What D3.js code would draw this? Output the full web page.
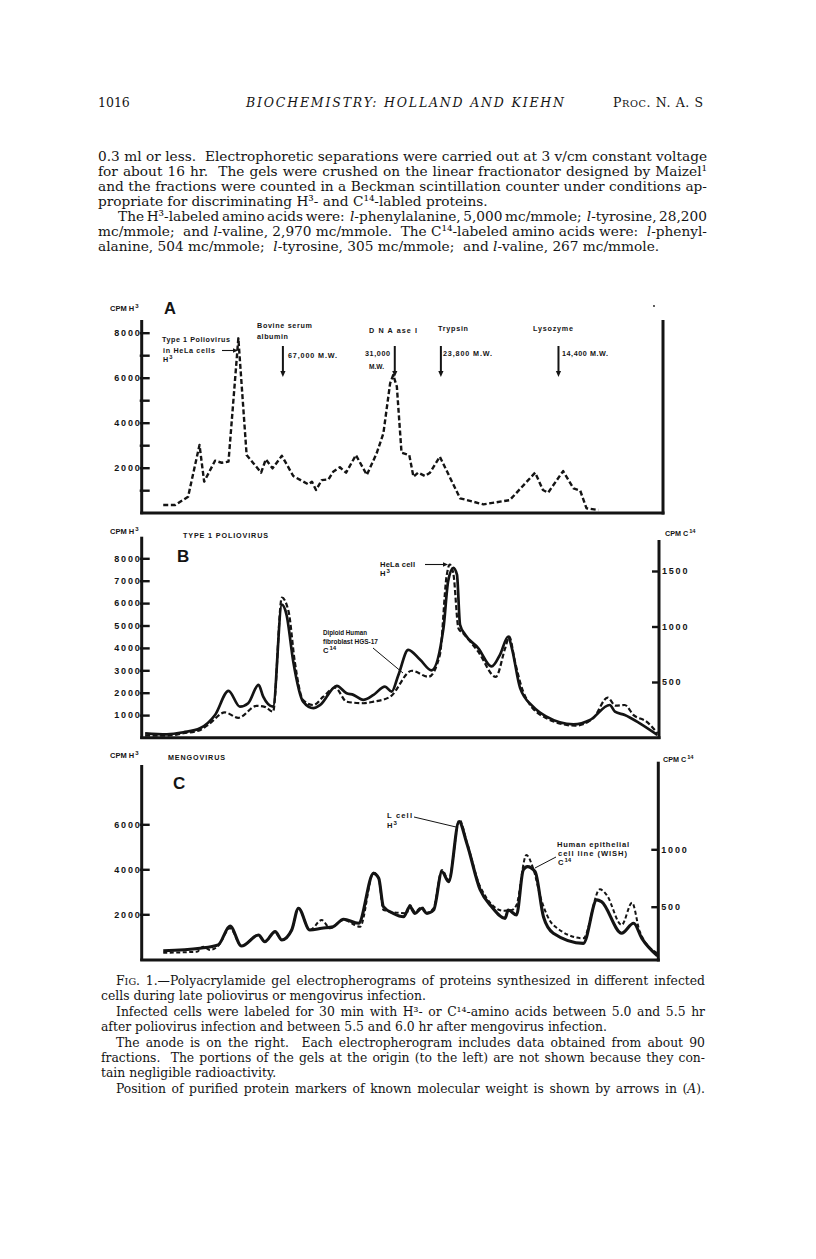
<!DOCTYPE html>
<html><head><meta charset="utf-8">
<script src="https://cdn.jsdelivr.net/npm/d3@7"></script>
<style>body{margin:0;background:#fff}svg{display:block}</style>
</head><body>
<svg id="fig" width="816" height="1259"></svg>
<script>
// ---------------- DATA ----------------
// x: position along the gel (0 = left edge of plot, 100 = right edge); y: counts per minute
const seriesA_H3 = [[4.1,340],[6.4,340],[8.9,710],[11.1,3010],[12.0,1380],[14.1,2310],[15.4,2220],[16.7,2270],[18.6,7750],[20.2,2560],[21.5,2200],[23.0,1780],[23.9,2370],[25.2,1970],[27.0,2530],[29.2,1630],[32.1,1260],[32.8,1380],[33.6,1010],[34.7,1450],[36.0,1480],[36.9,1820],[38.2,2020],[39.4,1780],[41.3,2560],[43.4,1680],[45.3,2640],[46.6,3530],[47.9,5750],[48.5,6120],[49.2,5600],[50.1,2670],[51.6,2560],[52.4,1600],[53.3,1780],[54.6,1630],[55.6,1780],[57.5,2490],[61.4,640],[65.9,370],[71.0,560],[75.9,1780],[77.4,1010],[78.4,890],[81.3,1850],[83.3,1080],[84.6,980],[85.8,200],[88.1,120]];
const seriesB_H3 = [[0.6,80],[4.8,80],[8.0,190],[11.2,330],[13.1,630],[16.0,1120],[18.6,880],[22.1,1410],[23.7,1370],[25.3,1150],[27.0,6240],[28.3,5620],[29.5,3380],[31.1,1670],[33.1,1450],[35.0,1820],[37.3,2220],[39.5,1600],[42.7,1530],[44.7,1600],[47.9,1820],[52.1,2980],[55.3,2710],[57.5,3680],[58.8,7200],[59.4,7720],[60.1,7330],[61.1,4870],[62.0,4650],[64.9,3830],[68.3,2710],[70.1,3980],[70.9,4500],[72.0,3380],[73.6,2040],[77.5,930],[83.6,530],[87.1,860],[89.9,1780],[91.4,1420],[93.2,1450],[94.9,1000],[97.4,710],[99.5,190]];
const seriesB_C14 = [[0.6,38],[4.8,29],[8.0,47],[11.2,83],[14.1,203],[16.7,420],[18.9,278],[20.5,309],[22.5,474],[23.4,368],[25.3,278],[27.0,1197],[27.9,1106],[29.2,685],[31.1,323],[33.1,264],[34.4,293],[37.6,465],[39.5,399],[40.8,384],[42.7,339],[44.7,384],[46.9,459],[48.2,414],[49.5,564],[51.4,790],[53.7,700],[55.9,605],[58.2,986],[59.1,1407],[60.1,1528],[60.8,1467],[61.4,1016],[62.4,926],[64.9,806],[67.5,640],[69.1,745],[70.7,910],[71.4,805],[73.0,445],[75.5,278],[78.1,188],[83.3,119],[86.5,158],[90.3,293],[91.3,233],[93.2,203],[96.1,128],[99.5,23]];
const seriesC_H3 = [[4.1,380],[11.2,490],[14.7,640],[17.0,1480],[19.2,590],[22.5,1080],[23.7,780],[25.7,1230],[27.0,860],[28.9,1300],[30.2,2270],[32.4,1300],[34.7,1380],[36.9,1450],[38.9,1780],[41.8,1600],[44.7,3820],[45.7,3600],[46.6,2340],[48.5,2040],[50.5,1890],[51.7,2340],[52.7,2040],[54.0,2270],[55.0,2040],[56.3,2190],[57.9,3890],[59.2,3450],[61.2,6120],[62.7,5160],[65.3,3080],[67.5,2340],[70.1,1820],[70.7,2190],[72.3,1970],[73.6,3970],[74.4,4120],[75.9,3890],[77.5,1890],[79.4,1160],[85.2,710],[87.8,2640],[88.7,2560],[92.6,1160],[94.9,1600],[96.5,930],[99.5,150]];
const seriesC_C14 = [[4.1,99],[10.6,108],[11.8,152],[13.1,123],[14.7,158],[17.0,312],[19.2,158],[22.5,254],[23.7,195],[25.7,282],[27.0,210],[28.9,297],[30.2,486],[32.4,297],[34.7,384],[36.3,312],[38.9,384],[42.1,326],[44.7,796],[45.7,747],[46.6,471],[51.1,443],[51.7,515],[52.7,454],[54.0,497],[55.0,445],[56.3,489],[57.9,820],[59.2,733],[61.3,1255],[62.7,1064],[65.3,674],[69.8,465],[71.4,471],[72.3,515],[74.2,950],[75.5,835],[77.1,558],[79.4,341],[85.2,225],[88.4,652],[89.7,602],[92.6,341],[94.6,535],[96.1,282],[99.5,94]];

const ticksA_left = [1000,2000,3000,4000,5000,6000,7000,8000];
const labelsA_left = [2000,4000,6000,8000];
const ticksB_left = [1000,2000,3000,4000,5000,6000,7000,8000];
const labelsB_left = [1000,2000,3000,4000,5000,6000,7000,8000];
const ticksB_right = [500,1000,1500];
const ticksC_left = [2000,4000,6000];
const ticksC_right = [500,1000];

const markersA = [
  {name:["Bovine serum","albumin"], mw:["67,000 M.W."], x:27.2},
  {name:["D N A ase I"], mw:["31,000","M.W."], x:48.8},
  {name:["Trypsin"], mw:["23,800 M.W."], x:57.7},
  {name:["Lysozyme"], mw:["14,400 M.W."], x:80.4}
];

const headerText = ["1016", "BIOCHEMISTRY: HOLLAND AND KIEHN", "P^ROC^. N. A. S"];
const paragraph = [
  "0.3 ml or less.  Electrophoretic separations were carried out at 3 v/cm constant voltage",
  "for about 16 hr.  The gels were crushed on the linear fractionator designed by Maizel¹",
  "and the fractions were counted in a Beckman scintillation counter under conditions ap-",
  "propriate for discriminating H³- and C¹⁴-labled proteins.",
  "The H³-labeled amino acids were:  *l*-phenylalanine, 5,000 mc/mmole;  *l*-tyrosine, 28,200",
  "mc/mmole;  and *l*-valine, 2,970 mc/mmole.  The C¹⁴-labeled amino acids were:  *l*-phenyl-",
  "alanine, 504 mc/mmole;  *l*-tyrosine, 305 mc/mmole;  and *l*-valine, 267 mc/mmole."
];
const caption = [
  "F^IG^. 1.—Polyacrylamide gel electropherograms of proteins synthesized in different infected",
  "cells during late poliovirus or mengovirus infection.",
  "Infected cells were labeled for 30 min with H³- or C¹⁴-amino acids between 5.0 and 5.5 hr",
  "after poliovirus infection and between 5.5 and 6.0 hr after mengovirus infection.",
  "The anode is on the right.  Each electropherogram includes data obtained from about 90",
  "fractions.  The portions of the gels at the origin (to the left) are not shown because they con-",
  "tain negligible radioactivity.",
  "Position of purified protein markers of known molecular weight is shown by arrows in (*A*)."
];

// ---------------- LAYOUT / DRAW ----------------
const svg = d3.select('#fig');
svg.append('rect').attr('width',816).attr('height',1259).attr('fill','#fff');
const INK = '#141414';
const SERIF = "'DejaVu Serif','Liberation Serif',serif";
const SANS = "'Liberation Sans',Arial,'DejaVu Sans',sans-serif";

function serifText(str, x, y, size, opts={}) {
  const t = svg.append('text').attr('x',x).attr('y',y).attr('font-family',SERIF)
    .attr('font-size',size).attr('fill',INK).style('white-space','pre');
  if (opts.italic) t.attr('font-style','italic');
  str.split(/(\*[^*]*\*|\^[^^]*\^)/).forEach(seg=>{
    if(!seg) return;
    if(seg[0]==='*') t.append('tspan').attr('font-style','italic').text(seg.slice(1,-1));
    else if(seg[0]==='^') t.append('tspan').attr('font-size',size*0.78).text(seg.slice(1,-1));
    else t.append('tspan').text(seg);
  });
  return t;
}
function measure(str, size) {
  const t = serifText(str, 0, -100, size);
  const w = t.node().getComputedTextLength(); t.remove(); return w;
}
function block(lines, opts) {
  const xs = lines.map((s,i)=> opts.indent.includes(i) ? opts.xIndent : opts.x);
  let size = opts.base * opts.refWidth / measure(lines[opts.refLine], opts.base);
  opts.justify.forEach(i=>{
    const fit = opts.base * (opts.right - xs[i]) / measure(lines[i], opts.base) * opts.slack;
    if (fit < size) size = fit;
  });
  lines.forEach((s,i)=>{
    const t = serifText(s, xs[i], opts.y0 + i*opts.lead, size);
    if (opts.justify.includes(i)) {
      const w = t.node().getComputedTextLength();
      const n = (s.match(/ /g)||[]).length;
      t.attr('word-spacing', (opts.right - xs[i] - w)/n);
    }
  });
}

// header
serifText(headerText[0], 98, 107, 12.5);
serifText(headerText[1], 246, 107, 12.5, {italic:true}).attr('textLength',318).attr('lengthAdjust','spacing');
serifText(headerText[2], 613, 107, 12.5).attr('textLength',90).attr('lengthAdjust','spacing');

block(paragraph, {base:12, refLine:6, refWidth:562, x:98, xIndent:118, indent:[4], y0:161, lead:15,
  right:707, justify:[0,1,2,4,5], slack:1.04});
block(caption, {base:11, refLine:3, refWidth:506, x:101, xIndent:116, indent:[0,2,4,7], y0:985, lead:15.4,
  right:705, justify:[0,2,4,5,7], slack:1.02});

function sansText(str, x, y, size, width) {
  const t = svg.append('text').attr('x',x).attr('y',y).attr('font-family',SANS)
    .attr('font-weight','bold').attr('font-size',size).attr('fill',INK);
  str.split(/(\{[^}]*\})/).forEach(seg=>{
    if(!seg) return;
    if(seg[0]==='{') t.append('tspan').attr('font-size',size*0.8).attr('dy',-size*0.45).attr('dx',1).text(seg.slice(1,-1));
    else t.append('tspan').text(seg);
  });
  if (width) {
    const w = t.node().getComputedTextLength();
    t.attr('textLength',width).attr('lengthAdjust', w > width ? 'spacingAndGlyphs' : 'spacing');
  }
  return t;
}

const x = d3.scaleLinear().domain([0,100]).range([142,660]);

function leftAxis(y, ticks, labels, axX, topPx) {
  const ax = d3.axisLeft(y).tickValues(ticks).tickSize(-8).tickSizeOuter(0).tickPadding(2)
    .tickFormat(d => labels.includes(d) ? d3.format('d')(d) : '');
  const g = svg.append('g').attr('transform',`translate(${axX},0)`).call(ax);
  g.select('.domain').remove();
  g.selectAll('.tick line').attr('stroke',INK).attr('stroke-width',2.4).attr('x1',-2);
  g.selectAll('.tick text').attr('font-family',SANS).attr('font-weight','bold').attr('font-size',9)
    .attr('letter-spacing',1.8).attr('dx',1.8).attr('fill',INK);
  svg.append('line').attr('x1',axX).attr('x2',axX).attr('y1',topPx).attr('y2',y(0)+1.5)
    .attr('stroke',INK).attr('stroke-width',3);
}
function rightAxis(y, ticks, axX, topPx, bottomPx) {
  const ax = d3.axisRight(y).tickValues(ticks).tickSize(-7).tickSizeOuter(0).tickPadding(3)
    .tickFormat(d3.format('d'));
  const g = svg.append('g').attr('transform',`translate(${axX},0)`).call(ax);
  g.select('.domain').remove();
  g.selectAll('.tick line').attr('stroke',INK).attr('stroke-width',2.4);
  g.selectAll('.tick text').attr('font-family',SANS).attr('font-weight','bold').attr('font-size',9)
    .attr('letter-spacing',1.8).attr('fill',INK);
  svg.append('line').attr('x1',axX).attr('x2',axX).attr('y1',topPx).attr('y2',bottomPx)
    .attr('stroke',INK).attr('stroke-width',3);
}
function bottomLine(yPx, x1, x2) {
  svg.append('line').attr('x1',x1-1.5).attr('x2',x2+1.5).attr('y1',yPx).attr('y2',yPx)
    .attr('stroke',INK).attr('stroke-width',3);
}
function plotLine(data, y, curve, w, dash) {
  const p = svg.append('path').datum(data)
    .attr('d', d3.line().x(d=>x(d[0])).y(d=>y(d[1])).curve(curve))
    .attr('fill','none').attr('stroke',INK).attr('stroke-width',w)
    .attr('stroke-linejoin','round');
  if (dash) p.attr('stroke-dasharray',dash);
}
function arrowDown(px, y1, y2) {
  svg.append('line').attr('x1',px).attr('x2',px).attr('y1',y1).attr('y2',y2-4)
    .attr('stroke',INK).attr('stroke-width',2);
  svg.append('path').attr('d',`M${px-2.6},${y2-5}L${px+2.6},${y2-5}L${px},${y2+1}Z`).attr('fill',INK);
}
function arrowRight(x1, x2, py) {
  svg.append('line').attr('x1',x1).attr('x2',x2-4).attr('y1',py).attr('y2',py)
    .attr('stroke',INK).attr('stroke-width',1.1);
  svg.append('path').attr('d',`M${x2-5},${py-2.2}L${x2-5},${py+2.2}L${x2},${py}Z`).attr('fill',INK);
}
function pointer(x1,y1,x2,y2){
  svg.append('line').attr('x1',x1).attr('y1',y1).attr('x2',x2).attr('y2',y2)
    .attr('stroke',INK).attr('stroke-width',1);
}

// ---- Panel A ----
const yA = d3.scaleLinear().domain([0,8000]).range([512.7,332.7]);
leftAxis(yA, ticksA_left, labelsA_left, 141.7, 320);
rightAxis(d3.scaleLinear().domain([0,1]).range([513,320]), [], 663, 320, 514.5);
bottomLine(513, 141.7, 663);
plotLine(seriesA_H3, yA, d3.curveLinear, 2.4, '5,2.6');
sansText('CPM H{3}', 110, 311, 7.5);
sansText('A', 164, 314, 16.5);
sansText('Type 1 Poliovirus', 162, 342, 7.2, 68);
sansText('in HeLa cells', 163, 353, 7.2, 52);
arrowRight(222, 238, 350.5);
sansText('H{3}', 163, 362, 7.2);
const mkLayout = [
  {name:[[257,328,55],[257,339,31]], mw:[[288,358,49]]},
  {name:[[369,333,48]], mw:[[365,356,25],[369,368.5,15]]},
  {name:[[438,331,30]], mw:[[443,356,49]]},
  {name:[[533,331,40]], mw:[[562,356,46]]}
];
markersA.forEach((m,i)=>{
  const L = mkLayout[i];
  m.name.forEach((s,j)=>sansText(s, L.name[j][0], L.name[j][1], 7.2, L.name[j][2]));
  m.mw.forEach((s,j)=>sansText(s, L.mw[j][0], L.mw[j][1], 7.2, L.mw[j][2]));
  arrowDown(x(m.x), 346, 376);
});
svg.append('circle').attr('cx',654).attr('cy',306).attr('r',0.9).attr('fill',INK);

// ---- Panel B ----
const yB = d3.scaleLinear().domain([0,8000]).range([737.5,558.3]);
const yB2 = d3.scaleLinear().domain([0,1500]).range([737.5,571]);
leftAxis(yB, ticksB_left, labelsB_left, 141.7, 536.7);
rightAxis(yB2, ticksB_right, 659, 540, 739);
bottomLine(737.7, 141.7, 659);
plotLine(seriesB_C14, yB2, d3.curveMonotoneX, 2.7, null);
plotLine(seriesB_H3, yB, d3.curveMonotoneX, 2.2, '5,2.5');
sansText('CPM H{3}', 110, 534, 7.5);
sansText('TYPE 1 POLIOVIRUS', 183, 538, 7.2, 85);
sansText('B', 177, 562, 17);
sansText('CPM C{14}', 665, 536, 7.2);
sansText('HeLa cell', 380, 567, 7.6, 35);
arrowRight(425, 448, 564.5);
sansText('H{3}', 380, 576, 7.6);
sansText('Diploid Human', 323, 635, 7.6, 44);
sansText('fibroblast HGS-17', 323, 644, 7.6, 55);
sansText('C{14}', 323, 653, 7.6);
pointer(373, 648, 403, 673);

// ---- Panel C ----
const yC = d3.scaleLinear().domain([0,6000]).range([959.3,824.3]);
const yC2 = d3.scaleLinear().domain([0,1000]).range([964.1,849.3]);
leftAxis(yC, ticksC_left, ticksC_left, 141.7, 765);
rightAxis(yC2, ticksC_right, 658.3, 761.7, 961.5);
bottomLine(960, 141.7, 658.3);
plotLine(seriesC_H3, yC, d3.curveMonotoneX, 3.1, null);
plotLine(seriesC_C14, yC2, d3.curveMonotoneX, 2.0, '4,2.5');
sansText('CPM H{3}', 110, 758, 7.5);
sansText('MENGOVIRUS', 168, 760, 7.2, 57);
sansText('C', 173, 789, 17);
sansText('CPM C{14}', 663, 762, 7.2);
sansText('L cell', 387, 818, 7.6, 25);
sansText('H{3}', 387, 828, 7.6);
pointer(414, 817, 456, 827);
sansText('Human epithelial', 557, 847, 7.6, 72);
sansText('cell line (WISH)', 558, 856, 7.6, 69);
sansText('C{14}', 558, 865, 7.6);
pointer(556, 857, 535, 868);
</script>
</body></html>
